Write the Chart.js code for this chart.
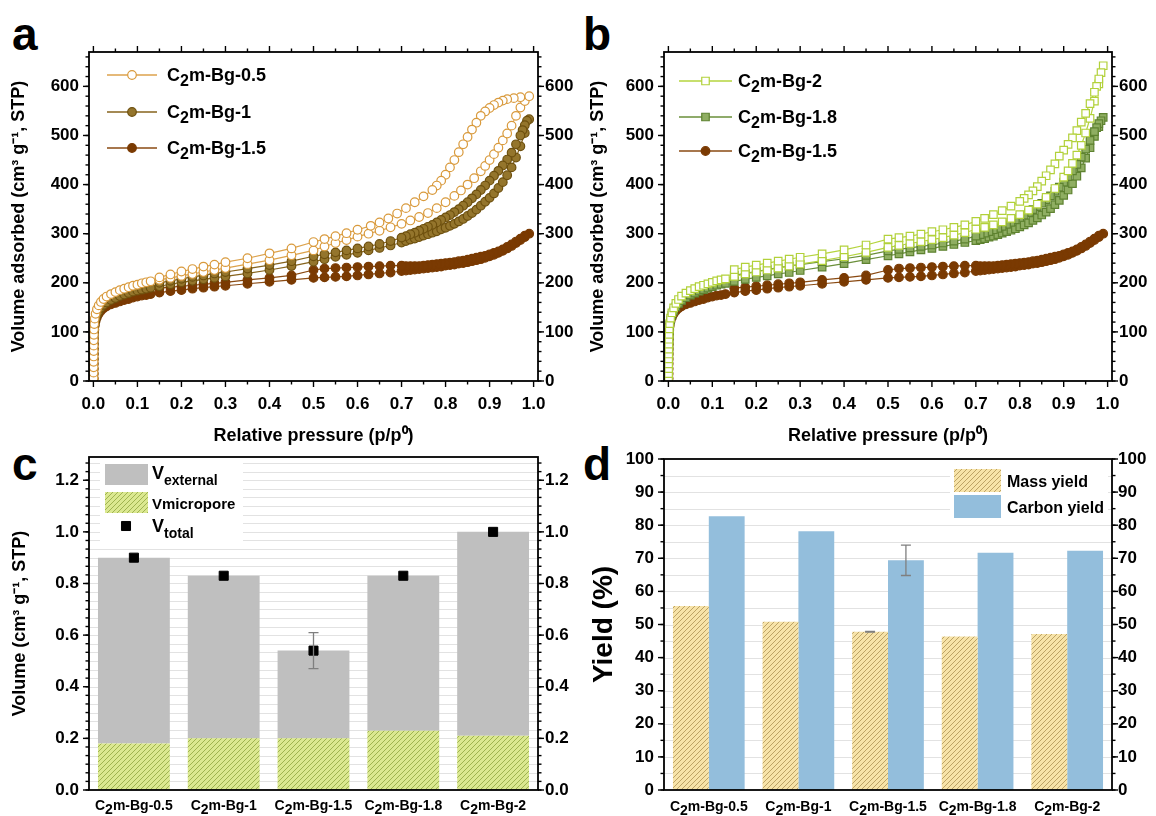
<!DOCTYPE html>
<html>
<head>
<meta charset="utf-8">
<script src="https://cdn.jsdelivr.net/npm/chart.js@4.4.1/dist/chart.umd.min.js"></script>
<style>
  html, body { margin: 0; padding: 0; background: #fff; }
  body { width: 1156px; height: 816px; position: relative; overflow: hidden; font-family: "Liberation Sans", Arial, sans-serif; }
  .panel { position: absolute; }
  .tag { position: absolute; font-weight: bold; font-size: 46px; line-height: 46px; color: #000; }
</style>
</head>
<body>
<div class="tag" style="left:12px;top:11px">a</div>
<div class="tag" style="left:583px;top:11px">b</div>
<div class="tag" style="left:12px;top:441px">c</div>
<div class="tag" style="left:583px;top:441px">d</div>

<div class="panel" style="left:0;top:0"><canvas id="chartA" width="580" height="460"></canvas></div>
<div class="panel" style="left:576px;top:0"><canvas id="chartB" width="580" height="460"></canvas></div>
<div class="panel" style="left:0;top:420px"><canvas id="chartC" width="580" height="396"></canvas></div>
<div class="panel" style="left:576px;top:420px"><canvas id="chartD" width="580" height="396"></canvas></div>

<script>
// ---- isotherm data: [p/p0, volume] pairs, adsorption then desorption ----
const bg05Ads = [[0.0005,6],[0.0005,17],[0.0006,28],[0.0006,39],[0.0007,50],[0.0008,61],[0.0009,72],[0.001,83],[0.0012,94],[0.0015,105],[0.002,116],[0.003,127],[0.005,137],[0.008,146],[0.012,154],[0.017,161],[0.023,167],[0.03,172],[0.04,177],[0.05,181],[0.06,185],[0.07,188],[0.08,191],[0.09,194],[0.10,196],[0.11,199],[0.12,201],[0.13,203],[0.15,206],[0.175,210],[0.20,214],[0.225,218],[0.25,222],[0.275,226],[0.30,230],[0.35,238],[0.40,246],[0.45,256],[0.50,266],[0.525,274],[0.55,281],[0.575,287],[0.60,294],[0.625,300],[0.65,306],[0.675,313],[0.70,320],[0.72,327],[0.74,334],[0.76,342],[0.78,352],[0.80,364],[0.82,377],[0.835,388],[0.85,400],[0.865,413],[0.88,427],[0.89,438],[0.90,450],[0.91,462],[0.92,475],[0.93,490],[0.94,504],[0.95,520],[0.96,540],[0.97,557],[0.98,570],[0.99,580]];
const bg05Des = [[0.97,578],[0.955,576],[0.94,574],[0.93,571],[0.92,567],[0.91,562],[0.90,556],[0.89,549],[0.88,540],[0.87,526],[0.86,512],[0.85,497],[0.84,482],[0.83,466],[0.82,450],[0.81,435],[0.80,420],[0.79,408],[0.78,398],[0.77,389],[0.75,376],[0.73,364],[0.71,352],[0.69,341],[0.67,331],[0.65,323],[0.63,316],[0.60,308],[0.575,301],[0.55,295],[0.525,289],[0.50,283],[0.45,270],[0.40,260],[0.35,250],[0.30,242],[0.275,237],[0.25,233],[0.225,228],[0.20,223],[0.175,217],[0.15,211]];

const bg1Ads = [[0.0005,5],[0.0005,15],[0.0006,25],[0.0006,35],[0.0007,45],[0.0008,55],[0.0009,65],[0.001,75],[0.0012,85],[0.0015,95],[0.002,105],[0.003,115],[0.005,125],[0.008,134],[0.012,142],[0.017,149],[0.023,155],[0.03,160],[0.04,165],[0.05,169],[0.06,173],[0.07,176],[0.08,179],[0.09,182],[0.10,184],[0.11,186],[0.12,188],[0.13,190],[0.15,193],[0.175,197],[0.20,201],[0.225,204],[0.25,207],[0.275,210],[0.30,213],[0.35,219],[0.40,226],[0.45,234],[0.50,243],[0.525,248],[0.55,253],[0.575,257],[0.60,261],[0.625,266],[0.65,271],[0.675,276],[0.70,282],[0.71,285],[0.72,288],[0.73,290],[0.74,293],[0.75,296],[0.76,299],[0.77,302],[0.78,305],[0.79,309],[0.80,312],[0.81,316],[0.82,320],[0.83,325],[0.84,330],[0.85,336],[0.86,342],[0.87,349],[0.88,357],[0.89,365],[0.90,373],[0.91,382],[0.92,393],[0.93,405],[0.94,419],[0.95,435],[0.96,455],[0.97,478],[0.98,505],[0.99,533]];
const bg1Des = [[0.985,530],[0.98,521],[0.975,511],[0.97,500],[0.96,482],[0.95,465],[0.94,451],[0.93,439],[0.92,428],[0.91,418],[0.90,408],[0.89,398],[0.88,389],[0.87,380],[0.86,372],[0.85,364],[0.84,357],[0.83,350],[0.82,344],[0.81,338],[0.80,333],[0.79,328],[0.78,323],[0.77,318],[0.76,314],[0.75,310],[0.74,306],[0.73,302],[0.72,299],[0.71,295],[0.70,292],[0.675,285],[0.65,279],[0.625,274],[0.60,270],[0.575,266],[0.55,262],[0.525,258],[0.50,254],[0.45,244],[0.40,236],[0.35,229],[0.30,222],[0.275,219],[0.25,215],[0.225,212],[0.20,208],[0.175,204],[0.15,200]];

const bg15Ads = [[0.0005,5],[0.0005,15],[0.0006,25],[0.0006,35],[0.0007,45],[0.0008,55],[0.0009,65],[0.001,75],[0.0012,85],[0.0015,95],[0.002,104],[0.003,113],[0.005,122],[0.008,130],[0.012,137],[0.017,143],[0.023,148],[0.03,152],[0.04,156],[0.05,159],[0.06,162],[0.07,165],[0.08,167],[0.09,170],[0.10,172],[0.11,174],[0.12,175],[0.13,177],[0.15,180],[0.175,183],[0.20,185],[0.225,188],[0.25,190],[0.275,192],[0.30,194],[0.35,198],[0.40,202],[0.45,206],[0.50,210],[0.525,211],[0.55,212],[0.575,213],[0.60,215],[0.625,217],[0.65,219],[0.675,221],[0.70,224],[0.71,225],[0.72,226],[0.73,227],[0.74,228],[0.75,229],[0.76,230],[0.77,231],[0.78,232],[0.79,233],[0.80,235],[0.81,236],[0.82,237],[0.83,239],[0.84,240],[0.85,242],[0.86,244],[0.87,246],[0.88,248],[0.89,251],[0.90,254],[0.91,257],[0.92,261],[0.93,265],[0.94,270],[0.95,275],[0.96,281],[0.97,287],[0.98,293],[0.99,300]];
const bg15Des = [[0.98,296],[0.97,290],[0.96,284],[0.95,278],[0.94,273],[0.93,268],[0.92,264],[0.91,261],[0.90,258],[0.89,255],[0.88,253],[0.87,251],[0.86,249],[0.85,247],[0.84,245],[0.83,244],[0.82,242],[0.81,241],[0.80,240],[0.79,239],[0.78,238],[0.77,237],[0.76,236],[0.75,235],[0.74,234],[0.73,234],[0.72,234],[0.71,234],[0.70,235],[0.675,235],[0.65,234],[0.625,233],[0.60,232],[0.575,231],[0.55,230],[0.525,229],[0.50,226],[0.45,215],[0.40,210],[0.35,206],[0.30,201],[0.275,199],[0.25,197],[0.225,195],[0.20,193],[0.175,191],[0.15,189]];

const bg2Ads = [[0.0005,5],[0.0005,15],[0.0006,25],[0.0006,35],[0.0007,45],[0.0008,55],[0.0009,65],[0.001,75],[0.0012,85],[0.0015,95],[0.002,106],[0.003,117],[0.005,128],[0.008,139],[0.012,149],[0.017,158],[0.023,166],[0.03,173],[0.04,179],[0.05,184],[0.06,188],[0.07,192],[0.08,195],[0.09,198],[0.10,201],[0.11,204],[0.12,206],[0.13,208],[0.15,213],[0.175,218],[0.20,222],[0.225,226],[0.25,230],[0.275,234],[0.30,238],[0.35,245],[0.40,253],[0.45,262],[0.50,272],[0.525,276],[0.55,280],[0.575,284],[0.60,288],[0.625,292],[0.65,297],[0.675,302],[0.70,309],[0.72,313],[0.74,318],[0.76,324],[0.78,331],[0.80,339],[0.82,348],[0.84,360],[0.86,374],[0.88,392],[0.90,415],[0.91,428],[0.92,443],[0.93,460],[0.94,480],[0.95,505],[0.96,535],[0.97,570],[0.98,605],[0.99,642]];
const bg2Des = [[0.985,628],[0.98,615],[0.975,600],[0.97,588],[0.96,565],[0.95,545],[0.94,527],[0.93,510],[0.92,495],[0.91,482],[0.90,470],[0.89,458],[0.88,442],[0.87,430],[0.86,418],[0.85,407],[0.84,396],[0.83,387],[0.82,379],[0.81,372],[0.80,366],[0.78,356],[0.76,347],[0.74,339],[0.72,331],[0.70,325],[0.675,318],[0.65,313],[0.625,308],[0.60,304],[0.575,299],[0.55,295],[0.525,292],[0.50,289],[0.45,277],[0.40,267],[0.35,259],[0.30,252],[0.275,248],[0.25,244],[0.225,240],[0.20,236],[0.175,232],[0.15,227]];

const bg18Ads = [[0.0005,5],[0.0005,15],[0.0006,25],[0.0006,35],[0.0007,45],[0.0008,55],[0.0009,65],[0.001,75],[0.0012,85],[0.0015,95],[0.002,104],[0.003,114],[0.005,124],[0.008,134],[0.012,143],[0.017,151],[0.023,158],[0.03,164],[0.04,170],[0.05,175],[0.06,179],[0.07,183],[0.08,186],[0.09,189],[0.10,192],[0.11,195],[0.12,197],[0.13,199],[0.15,203],[0.175,207],[0.20,211],[0.225,214],[0.25,218],[0.275,221],[0.30,225],[0.35,232],[0.40,239],[0.45,247],[0.50,255],[0.525,259],[0.55,263],[0.575,267],[0.60,270],[0.625,274],[0.65,278],[0.675,282],[0.70,286],[0.71,288],[0.72,290],[0.73,293],[0.74,295],[0.75,298],[0.76,301],[0.77,304],[0.78,307],[0.79,310],[0.80,314],[0.81,318],[0.82,322],[0.83,327],[0.84,332],[0.85,338],[0.86,344],[0.87,351],[0.88,359],[0.89,368],[0.90,378],[0.91,389],[0.92,402],[0.93,417],[0.94,434],[0.95,454],[0.96,475],[0.97,498],[0.98,518],[0.99,537]];
const bg18Des = [[0.985,530],[0.98,524],[0.975,516],[0.97,508],[0.96,490],[0.95,472],[0.94,456],[0.93,441],[0.92,428],[0.91,416],[0.90,405],[0.89,395],[0.88,386],[0.87,377],[0.86,369],[0.85,362],[0.84,355],[0.83,349],[0.82,343],[0.81,338],[0.80,333],[0.79,328],[0.78,323],[0.77,319],[0.76,315],[0.75,311],[0.74,308],[0.73,304],[0.72,301],[0.71,298],[0.70,295],[0.675,289],[0.65,285],[0.625,281],[0.60,277],[0.575,274],[0.55,271],[0.525,268],[0.50,265],[0.45,256],[0.40,249],[0.35,243],[0.30,237],[0.275,234],[0.25,231],[0.225,227],[0.20,223],[0.175,219],[0.15,215]];

const namesA = ['C2m-Bg-0.5', 'C2m-Bg-1', 'C2m-Bg-1.5'];
const namesB = ['C2m-Bg-2', 'C2m-Bg-1.8', 'C2m-Bg-1.5'];

// ---- bar data ----
const samples = ['C2m-Bg-0.5', 'C2m-Bg-1', 'C2m-Bg-1.5', 'C2m-Bg-1.8', 'C2m-Bg-2'];
const vMicropore = [0.18, 0.20, 0.20, 0.23, 0.21];
const vExternal = [0.72, 0.63, 0.34, 0.60, 0.79];
const vTotal = [0.90, 0.83, 0.54, 0.83, 1.00];
const vTotalErr = [0, 0, 0.07, 0, 0];
const massYield = [55.6, 50.8, 47.8, 46.4, 47.1];
const massErr = [0, 0, 0.1, 0, 0];
const carbonYield = [82.7, 78.2, 69.4, 71.7, 72.3];
const carbonErr = [0, 0, 4.6, 0, 0];

const FONT = '"Liberation Sans", Arial, Helvetica, sans-serif';
Chart.defaults.font.family = FONT;
Chart.defaults.color = '#000';

function steps(a, b, s) {
  const out = [];
  for (let k = 0; a + k * s <= b + 1e-9; k++) out.push(a + k * s);
  return out;
}
const pts = arr => arr.map(([x, y]) => ({ x, y }));

function hatch(bg, fg) {
  const c = document.createElement('canvas');
  c.width = 5; c.height = 5;
  const g = c.getContext('2d');
  g.fillStyle = bg; g.fillRect(0, 0, 5, 5);
  g.strokeStyle = fg; g.lineWidth = 0.9;
  g.beginPath();
  g.moveTo(0, 5); g.lineTo(5, 0);
  g.moveTo(-1, 1); g.lineTo(1, -1);
  g.moveTo(4, 6); g.lineTo(6, 4);
  g.stroke();
  return g.createPattern(c, 'repeat');
}
const microFill = hatch('#dbe890', '#97ad48');
const massFill = hatch('#f7e3a8', '#b59c5e');

function marker(ctx, style, x, y, r, fill, stroke, bw) {
  ctx.save();
  ctx.fillStyle = fill; ctx.strokeStyle = stroke; ctx.lineWidth = bw;
  ctx.beginPath();
  if (style === 'rect') { const s = Math.SQRT1_2 * r; ctx.rect(x - s, y - s, 2 * s, 2 * s); }
  else ctx.arc(x, y, r, 0, Math.PI * 2);
  ctx.fill(); ctx.stroke();
  ctx.restore();
}

// text with lowered/smaller parts: [[text, size, dy]]
function rich(ctx, parts, x, y, align) {
  ctx.save();
  ctx.fillStyle = '#000'; ctx.textBaseline = 'alphabetic'; ctx.textAlign = 'left';
  if (align === 'center') {
    let w = 0;
    for (const [t, size] of parts) { ctx.font = `bold ${size}px ${FONT}`; w += ctx.measureText(t).width; }
    x -= w / 2;
  }
  for (const [t, size, dy] of parts) {
    ctx.font = `bold ${size}px ${FONT}`;
    ctx.fillText(t, x, y + (dy || 0));
    x += ctx.measureText(t).width;
  }
  ctx.restore();
}
const sampleParts = (name, size, sub, drop) => [['C', size], ['2', sub, drop], [name.slice(2), size]];

// frame, ticks, gridlines, error bars and legends
const deco = {
  id: 'deco',
  beforeDatasetsDraw(chart, args, o) {
    if (!o.grid) return;
    const { ctx, chartArea: a } = chart, y = chart.scales.y;
    ctx.save();
    ctx.strokeStyle = '#e2e2e2'; ctx.lineWidth = 1;
    o.grid.forEach(v => {
      const py = Math.round(y.getPixelForValue(v)) + 0.5;
      ctx.beginPath(); ctx.moveTo(a.left, py); ctx.lineTo(a.right, py); ctx.stroke();
    });
    ctx.restore();
  },
  afterDatasetsDraw(chart, args, o) {
    const { ctx, chartArea: a } = chart, x = chart.scales.x, y = chart.scales.y;
    ctx.save();
    // error bars
    (o.err || []).forEach(({ ds, err }) => {
      const meta = chart.getDatasetMeta(ds), data = chart.data.datasets[ds].data;
      ctx.strokeStyle = '#7f7f7f'; ctx.lineWidth = 1.3;
      err.forEach((e, i) => {
        if (!e) return;
        const px = meta.data[i].x, y1 = y.getPixelForValue(data[i] + e), y2 = y.getPixelForValue(data[i] - e);
        ctx.beginPath();
        ctx.moveTo(px, y1); ctx.lineTo(px, y2);
        ctx.moveTo(px - 5, y1); ctx.lineTo(px + 5, y1);
        ctx.moveTo(px - 5, y2); ctx.lineTo(px + 5, y2);
        ctx.stroke();
      });
    });
    // frame
    ctx.strokeStyle = '#000'; ctx.lineWidth = 1.8;
    ctx.strokeRect(a.left, a.top, a.right - a.left, a.bottom - a.top);
    ctx.lineWidth = 1.4;
    const tick = (x1, y1, x2, y2) => { ctx.beginPath(); ctx.moveTo(x1, y1); ctx.lineTo(x2, y2); ctx.stroke(); };
    const side = (vals, len) => vals.forEach(v => {
      const py = y.getPixelForValue(v);
      tick(a.left, py, a.left - len, py);
      tick(a.right, py, a.right + len, py);
    });
    side(o.yMinor, 3.5); side(o.yMajor, 6);
    if (o.xMajor) {
      const top = (vals, len) => vals.forEach(v => {
        const px = x.getPixelForValue(v);
        tick(px, a.bottom, px, a.bottom + len);
        tick(px, a.top, px, a.top - len);
      });
      top(o.xMinor, 3.5); top(o.xMajor, 6);
    }
    ctx.restore();
  },
  afterDraw(chart, args, o) {
    const ctx = chart.ctx;
    if (o.lineLegend) {
      const L = o.lineLegend;
      L.names.forEach((name, i) => {
        const ds = chart.data.datasets[i], ry = L.rows[i];
        ctx.save();
        ctx.strokeStyle = ds.borderColor; ctx.lineWidth = 1.4;
        ctx.beginPath(); ctx.moveTo(L.x0, ry); ctx.lineTo(L.x1, ry); ctx.stroke();
        ctx.restore();
        marker(ctx, ds.pointStyle, (L.x0 + L.x1) / 2, ry, ds.pointRadius, ds.pointBackgroundColor, ds.pointBorderColor, ds.pointBorderWidth);
        rich(ctx, sampleParts(name, 18, 16, 5), L.tx, ry + 6);
      });
    }
    if (o.catLabels) {
      const x = chart.scales.x, base = chart.chartArea.bottom + o.catLabels;
      chart.data.labels.forEach((name, i) => rich(ctx, sampleParts(name, 14, 14, 4), x.getPixelForTick(i), base, 'center'));
    }
    if (o.boxLegend) o.boxLegend(ctx);
  }
};

function isoChart(id, series, names, o) {
  const datasets = series.map(s => ({
    data: pts(s.ads.concat(s.des)),
    borderColor: s.line, borderWidth: 1.2,
    pointStyle: s.style, pointRadius: s.r, pointBorderWidth: 1.2,
    pointBackgroundColor: s.fill, pointBorderColor: s.edge, tension: 0
  }));
  const tickFont = { size: 17, weight: 'bold' };
  const yTitle = { display: true, text: 'Volume adsorbed (cm³ g⁻¹, STP)', font: { size: 18, weight: 'bold' }, padding: { top: o.titlePad, bottom: 0 } };
  return new Chart(document.getElementById(id), {
    type: 'line',
    data: { datasets },
    options: {
      responsive: false, animation: false, events: [],
      layout: { padding: { top: 52, left: 0, right: 0, bottom: 0 } },
      plugins: {
        legend: { display: false }, tooltip: { enabled: false },
        deco: {
          xMajor: steps(0, 1, 0.1), xMinor: steps(0.05, 0.95, 0.1),
          yMajor: steps(0, 600, 100), yMinor: steps(0, 660, 20),
          lineLegend: { names, rows: o.rows, x0: o.x0, x1: o.x1, tx: o.tx }
        }
      },
      scales: {
        x: {
          type: 'linear', position: 'bottom', min: -0.01, max: 1.01,
          grid: { display: false, drawTicks: false }, border: { display: false },
          ticks: { stepSize: 0.1, includeBounds: false, padding: 13, font: tickFont, maxRotation: 0, autoSkip: false, callback: v => v.toFixed(1) },
          title: { display: true, text: 'Relative pressure (p/p⁰)', font: { size: 18, weight: 'bold' }, padding: { top: 0, bottom: 13 } },
          afterFit: s => { s.height = 79; }
        },
        y: {
          position: 'left', min: 0, max: 670,
          grid: { display: false, drawTicks: false }, border: { display: false },
          ticks: { stepSize: 100, includeBounds: false, padding: 10, font: tickFont },
          title: yTitle,
          afterFit: s => { s.width = o.left; }
        },
        y2: {
          position: 'right', min: 0, max: 670,
          grid: { display: false, drawTicks: false }, border: { display: false },
          ticks: { stepSize: 100, includeBounds: false, padding: 7, font: tickFont },
          afterFit: s => { s.width = 580 - o.right; }
        }
      }
    },
    plugins: [deco]
  });
}

const brown15 = { ads: bg15Ads, des: bg15Des, line: '#8a4a12', style: 'circle', r: 4.3, fill: '#7a3a02', edge: '#7a3a02' };

isoChart('chartA', [
  { ads: bg05Ads, des: bg05Des, line: '#dca24c', style: 'circle', r: 4.3, fill: '#ffffff', edge: '#d99a3c' },
  { ads: bg1Ads, des: bg1Des, line: '#86631c', style: 'circle', r: 4.3, fill: '#94752c', edge: '#6e500e' },
  brown15
], namesA, { left: 89, right: 538, titlePad: 8, rows: [75, 112, 148], x0: 107, x1: 157, tx: 167 });

isoChart('chartB', [
  { ads: bg2Ads, des: bg2Des, line: '#b5d43e', style: 'rect', r: 5.3, fill: '#ffffff', edge: '#b2d13a' },
  { ads: bg18Ads, des: bg18Des, line: '#6a8f3a', style: 'rect', r: 5.3, fill: '#8fae62', edge: '#5e8230' },
  brown15
], namesB, { left: 88, right: 536, titlePad: 11, rows: [81, 117, 151], x0: 103, x1: 156, tx: 162 });

// ---- panel c ----
const yTick = { size: 17, weight: 'bold' };
new Chart(document.getElementById('chartC'), {
  data: {
    labels: samples,
    datasets: [
      { type: 'line', label: 'Vtotal', data: vTotal, showLine: false, pointStyle: 'rect', pointRadius: 6.4, backgroundColor: '#000', borderColor: '#000', pointBackgroundColor: '#000', pointBorderColor: '#000', stack: 't', order: 0 },
      { type: 'bar', label: 'Vmicropore', data: vMicropore, backgroundColor: microFill, stack: 'v', order: 1, barPercentage: 1, categoryPercentage: 0.8 },
      { type: 'bar', label: 'Vexternal', data: vExternal, backgroundColor: '#bfbfbf', stack: 'v', order: 1, barPercentage: 1, categoryPercentage: 0.8 }
    ]
  },
  options: {
    responsive: false, animation: false, events: [],
    layout: { padding: { top: 37, left: 0, right: 0, bottom: 0 } },
    plugins: {
      legend: { display: false }, tooltip: { enabled: false },
      deco: {
        grid: steps(1 / 30, 1.29, 1 / 30),
        yMajor: steps(0, 1.2, 0.2), yMinor: steps(0, 1.29, 1 / 30),
        err: [{ ds: 0, err: vTotalErr }],
        catLabels: 20,
        boxLegend(ctx) {
          ctx.save();
          ctx.fillStyle = '#fff'; ctx.fillRect(100, 39, 143, 87);
          ctx.fillStyle = '#bfbfbf'; ctx.fillRect(105, 44, 43, 21);
          ctx.fillStyle = microFill; ctx.fillRect(105, 72, 43, 21);
          ctx.restore();
          marker(ctx, 'rect', 126, 106, 6.4, '#000', '#000', 1);
          rich(ctx, [['V', 18], ['external', 14, 6]], 152, 59);
          rich(ctx, [['Vmicropore', 15]], 152, 89);
          rich(ctx, [['V', 18], ['total', 14, 6]], 152, 112);
        }
      }
    },
    scales: {
      x: {
        type: 'category', stacked: true,
        grid: { display: false, drawTicks: false }, border: { display: false },
        ticks: { display: false },
        afterFit: s => { s.height = 26; }
      },
      y: {
        position: 'left', stacked: true, min: 0, max: 1.29,
        grid: { display: false, drawTicks: false }, border: { display: false },
        ticks: { stepSize: 0.2, includeBounds: false, padding: 10, font: yTick, callback: v => v.toFixed(1) },
        title: { display: true, text: 'Volume (cm³ g⁻¹, STP)', font: { size: 18, weight: 'bold' }, padding: { top: 9, bottom: 0 } },
        afterFit: s => { s.width = 89; }
      },
      y2: {
        position: 'right', min: 0, max: 1.29,
        grid: { display: false, drawTicks: false }, border: { display: false },
        ticks: { stepSize: 0.2, includeBounds: false, padding: 7, font: yTick, callback: v => v.toFixed(1) },
        afterFit: s => { s.width = 42; }
      }
    }
  },
  plugins: [deco]
});

// ---- panel d ----
new Chart(document.getElementById('chartD'), {
  type: 'bar',
  data: {
    labels: samples,
    datasets: [
      { label: 'Mass yield', data: massYield, backgroundColor: massFill, barPercentage: 1, categoryPercentage: 0.8 },
      { label: 'Carbon yield', data: carbonYield, backgroundColor: '#93bedc', barPercentage: 1, categoryPercentage: 0.8 }
    ]
  },
  options: {
    responsive: false, animation: false, events: [],
    layout: { padding: { top: 39, left: 0, right: 0, bottom: 0 } },
    plugins: {
      legend: { display: false }, tooltip: { enabled: false },
      deco: {
        grid: steps(5, 95, 5),
        yMajor: steps(0, 100, 10), yMinor: steps(0, 100, 5),
        err: [{ ds: 0, err: massErr }, { ds: 1, err: carbonErr }],
        catLabels: 21,
        boxLegend(ctx) {
          ctx.save();
          ctx.fillStyle = '#fff'; ctx.fillRect(374, 45, 158, 55);
          ctx.fillStyle = massFill; ctx.fillRect(378, 49, 47, 23);
          ctx.fillStyle = '#93bedc'; ctx.fillRect(378, 75, 47, 23);
          ctx.restore();
          rich(ctx, [['Mass yield', 16]], 431, 67);
          rich(ctx, [['Carbon yield', 16]], 431, 93);
        }
      }
    },
    scales: {
      x: {
        type: 'category',
        grid: { display: false, drawTicks: false }, border: { display: false },
        ticks: { display: false },
        afterFit: s => { s.height = 26; }
      },
      y: {
        position: 'left', min: 0, max: 100,
        grid: { display: false, drawTicks: false }, border: { display: false },
        ticks: { stepSize: 10, padding: 10, font: yTick },
        title: { display: true, text: 'Yield (%)', font: { size: 28, weight: 'bold' }, padding: { top: 11, bottom: 0 } },
        afterFit: s => { s.width = 88; }
      },
      y2: {
        position: 'right', min: 0, max: 100,
        grid: { display: false, drawTicks: false }, border: { display: false },
        ticks: { stepSize: 10, padding: 6, font: yTick },
        afterFit: s => { s.width = 44; }
      }
    }
  },
  plugins: [deco]
});
</script>
</body>
</html>
